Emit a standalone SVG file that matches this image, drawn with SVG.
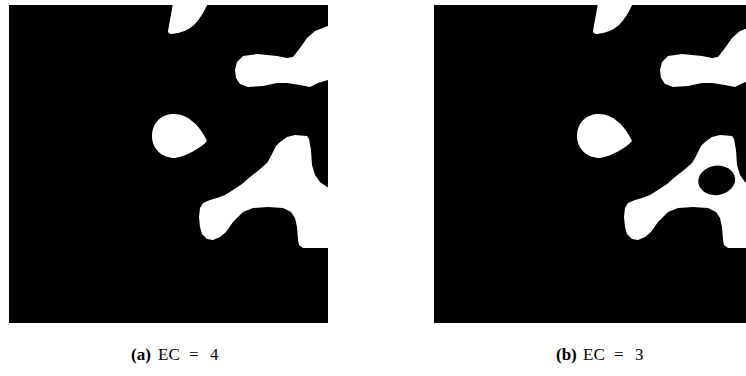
<svg xmlns="http://www.w3.org/2000/svg" xmlns:xlink="http://www.w3.org/1999/xlink" width="746" height="376" viewBox="0 0 746 376">
<style>
.bg{fill:#000}
.w{fill:#fff}
.cap{font-family:"Liberation Serif","DejaVu Serif",serif;font-size:17px;fill:#000}
.lab{font-weight:bold}
</style>
<defs>
<clipPath id="sq" clipPathUnits="userSpaceOnUse"><rect x="9" y="5" width="319" height="318"/></clipPath>
<g id="panel">
<rect class="bg" x="9" y="5" width="319" height="318"/>
<g clip-path="url(#sq)">
<path class="w" d="M173,3 L170,20 L168,31 Q168,34 172,34 Q185,33 194,25 Q202,17 208,3 Z"/>
<polygon class="w" points="287,58 293,57 300,48 307,38 315,31 328,26 332,25 332,80 328,80 318,83 310,87 300,85 287,83 277,83 263,86 248,87 240,84 236,78 235,70 237,62 243,56 257,54 277,56"/>
<path class="w" d="M152,136 C152,122 162,114 174,114 C188,114 200,126 207,141 C200,149 186,156 175,158 C162,158 152,149 152,136 Z"/>
<polygon class="w" points="280,142 287,137 295,135 307,136 309,139 311,150 312,165 315,175 320,182 327,187 332,188 332,248 327,248 303,248 299,245 298,240 297,227 295,218 291,212 283,208 268,207 253,208 243,212 238,217 233,222 226,232 220,237 213,240 207,239 202,234 200,227 199,217 200,208 203,203 210,200 217,198 225,195 233,190 242,184 250,177 259,170 267,163 270,158 273,152 276,146"/>
</g>
</g>
</defs>
<g id="panel-a">
<use xlink:href="#panel"/>
</g>
<g id="panel-b">
<use xlink:href="#panel" transform="translate(425,0)"/>
<ellipse class="bg" cx="716.7" cy="180.4" rx="18.5" ry="14.7" transform="rotate(-8 716.7 180.4)"/>
</g>
<text class="cap" y="360"><tspan class="lab" x="131">(a)</tspan><tspan x="158">EC</tspan><tspan x="189">=</tspan><tspan x="210">4</tspan></text>
<text class="cap" y="360"><tspan class="lab" x="556">(b)</tspan><tspan x="583">EC</tspan><tspan x="614">=</tspan><tspan x="635">3</tspan></text>
</svg>
